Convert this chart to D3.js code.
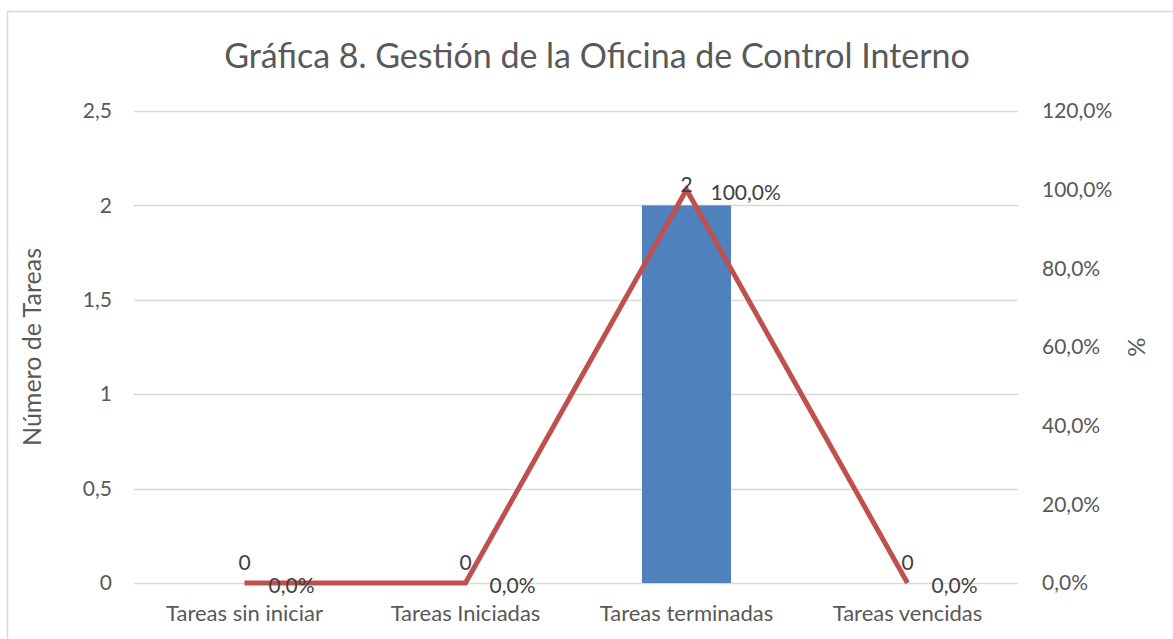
<!DOCTYPE html>
<html>
<head>
<meta charset="utf-8">
<script src="https://cdn.jsdelivr.net/npm/d3@7"></script>
<style>
  body { margin: 0; background: #fff; }
  text { font-family: Lato, "Noto Sans", sans-serif; fill: #595959; }
</style>
</head>
<body>
<div id="chart"></div>
<script>
var categories = ["Tareas sin iniciar", "Tareas Iniciadas", "Tareas terminadas", "Tareas vencidas"],
    counts = [0, 0, 2, 0],
    percents = [0, 0, 1, 0],
    countTicks = [0, 0.5, 1, 1.5, 2, 2.5],
    pctTicks = [0, 0.2, 0.4, 0.6, 0.8, 1, 1.2];

var W = 1173, H = 639,
    margin = { top: 111, right: 155, bottom: 56, left: 134 },
    width = W - margin.left - margin.right,
    height = H - margin.top - margin.bottom;

var comma = function (v) { return String(v).replace(".", ","); };
var pctFmt = function (v) { return (v * 100).toFixed(1).replace(".", ",") + "%"; };

var svg = d3.select("#chart").append("svg")
    .attr("width", W)
    .attr("height", H);

// outer frame
svg.append("rect")
    .attr("x", 7.5).attr("y", 11.5)
    .attr("width", W + 10).attr("height", H + 10)
    .attr("fill", "none")
    .attr("stroke", "#d9d9d9")
    .attr("stroke-width", 1.5);

svg.append("text")
    .attr("x", 597).attr("y", 68)
    .attr("text-anchor", "middle")
    .style("font-size", "34px")
    .text("Gráfica 8. Gestión de la Oficina de Control Interno");

var g = svg.append("g")
    .attr("transform", "translate(" + margin.left + "," + margin.top + ")");

var x = d3.scaleBand().domain(categories).range([0, width]).paddingInner(0.6).paddingOuter(0.3);
var xc = function (d) { return x(d) + x.bandwidth() / 2; };
var y = d3.scaleLinear().domain([0, 2.5]).range([height, 0]);
var y2 = d3.scaleLinear().domain([0, 1.2]).range([height, 0]);

// gridlines
g.selectAll(".grid")
    .data(countTicks)
    .enter().append("line")
    .attr("class", "grid")
    .attr("x1", 0).attr("x2", width)
    .attr("y1", function (d) { return Math.round(y(d)) + 0.5; })
    .attr("y2", function (d) { return Math.round(y(d)) + 0.5; })
    .attr("stroke", "#d9d9d9")
    .attr("stroke-width", 1.3);

// left axis
var yAxis = g.append("g")
    .call(d3.axisLeft(y).tickValues(countTicks).tickFormat(comma).tickSize(0).tickPadding(22));
yAxis.select(".domain").remove();
yAxis.selectAll("text").style("font-size", "21px").style("fill", "#595959").style("font-family", "Lato");

// right axis
var y2Axis = g.append("g")
    .attr("transform", "translate(" + width + ",0)")
    .call(d3.axisRight(y2).tickValues(pctTicks).tickFormat(pctFmt).tickSize(0).tickPadding(24));
y2Axis.select(".domain").remove();
y2Axis.selectAll("text").style("font-size", "21px").style("fill", "#595959").style("font-family", "Lato");

// category labels
var xAxis = g.append("g")
    .attr("transform", "translate(0," + height + ")")
    .call(d3.axisBottom(x).tickSize(0).tickPadding(22));
xAxis.select(".domain").remove();
xAxis.selectAll("text").style("font-size", "22px").style("fill", "#595959").style("font-family", "Lato");

// axis titles
svg.append("text")
    .attr("transform", "translate(41,347) rotate(-90)")
    .attr("text-anchor", "middle")
    .style("font-size", "25px")
    .text("Número de Tareas");

svg.append("text")
    .attr("transform", "translate(1145,347) rotate(-90)")
    .attr("text-anchor", "middle")
    .style("font-size", "24px")
    .text("%");

// bars
var barW = 89;
g.selectAll(".bar")
    .data(counts)
    .enter().append("rect")
    .attr("class", "bar")
    .attr("x", function (d, i) { return xc(categories[i]) - barW / 2; })
    .attr("y", function (d) { return y(d); })
    .attr("width", barW)
    .attr("height", function (d) { return height - y(d); })
    .attr("fill", "#4f81bd");

// line
var line = d3.line()
    .x(function (d, i) { return xc(categories[i]); })
    .y(function (d) { return y2(d); });

g.append("path")
    .datum(percents)
    .attr("d", line)
    .attr("fill", "none")
    .attr("stroke", "#c0504d")
    .attr("stroke-width", 5)
    .attr("stroke-linejoin", "miter");

// bar labels
g.selectAll(".blabel")
    .data(counts)
    .enter().append("text")
    .attr("x", function (d, i) { return xc(categories[i]); })
    .attr("y", function (d) { return y(d) - 13; })
    .attr("text-anchor", "middle")
    .style("font-size", "21px")
    .style("fill", "#404040")
    .text(function (d) { return d; });

// line labels
g.selectAll(".plabel")
    .data(percents)
    .enter().append("text")
    .attr("x", function (d, i) { return xc(categories[i]) + 24; })
    .attr("y", function (d) { return y2(d) + 10; })
    .style("font-size", "21px")
    .style("fill", "#404040")
    .text(pctFmt);
</script>
</body>
</html>
